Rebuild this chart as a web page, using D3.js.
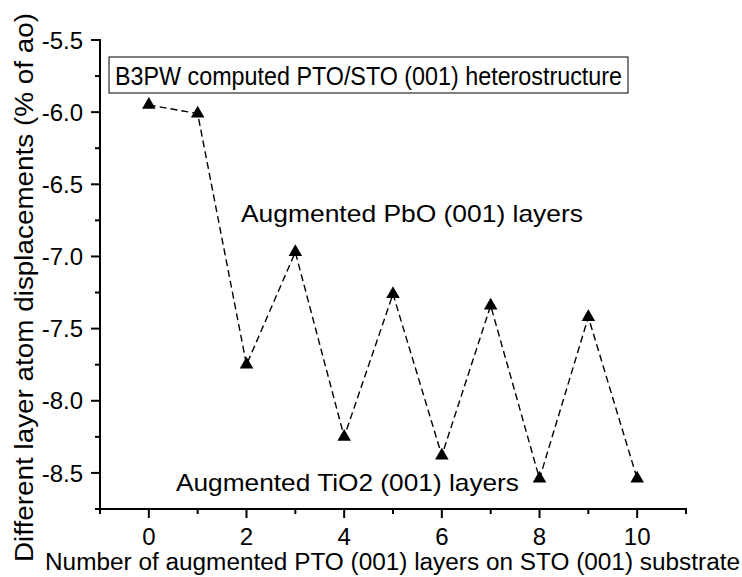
<!doctype html>
<html>
<head>
<meta charset="UTF-8">
<script src="https://cdn.jsdelivr.net/npm/d3@7"></script>
<style>
  body { margin: 0; background: #fff; }
  svg text { font-family: "Liberation Sans", Arial, sans-serif; fill: #000; }
</style>
</head>
<body>
<svg id="chart" width="742" height="577"></svg>
<script>
// layer number vs displacement (% of ao)
var layers = [0, 1, 2, 3, 4, 5, 6, 7, 8, 9, 10];
var displacement = [-5.95, -6.01, -7.75, -6.97, -8.25, -7.26, -8.38, -7.34, -8.54, -7.42, -8.54];
var xTicks = [0, 2, 4, 6, 8, 10];
var xMinor = [-1, 1, 3, 5, 7, 9, 11];
var yTicks = [-5.5, -6.0, -6.5, -7.0, -7.5, -8.0, -8.5];
var yMinor = [-5.75, -6.25, -6.75, -7.25, -7.75, -8.25, -8.75];

var svg = d3.select("#chart");
var x = d3.scaleLinear().domain([-1, 11]).range([100, 686]);
var y = d3.scaleLinear().domain([-8.75, -5.5]).range([509, 40]);

// x axis
var gx = svg.append("g").attr("transform", "translate(0," + y(-8.75) + ")");
gx.append("line").attr("x1", x(-1) - 1).attr("x2", x(11) + 1).attr("stroke", "#000").attr("stroke-width", 2);
gx.selectAll(".maj").data(xTicks).enter().append("line")
    .attr("x1", d => x(d)).attr("x2", d => x(d)).attr("y1", 0).attr("y2", 9)
    .attr("stroke", "#000").attr("stroke-width", 2);
gx.selectAll(".min").data(xMinor).enter().append("line")
    .attr("x1", d => x(d)).attr("x2", d => x(d)).attr("y1", 0).attr("y2", 5)
    .attr("stroke", "#000").attr("stroke-width", 2);
gx.selectAll("text").data(xTicks).enter().append("text")
    .attr("x", d => x(d)).attr("y", 36).attr("text-anchor", "middle")
    .style("font-size", "24px").text(d => d);

// y axis
var gy = svg.append("g").attr("transform", "translate(" + x(-1) + ",0)");
gy.append("line").attr("y1", y(-5.5) - 1).attr("y2", y(-8.75)).attr("stroke", "#000").attr("stroke-width", 2);
gy.selectAll(".maj").data(yTicks).enter().append("line")
    .attr("y1", d => y(d)).attr("y2", d => y(d)).attr("x1", 0).attr("x2", -9)
    .attr("stroke", "#000").attr("stroke-width", 2);
gy.selectAll(".min").data(yMinor).enter().append("line")
    .attr("y1", d => y(d)).attr("y2", d => y(d)).attr("x1", 0).attr("x2", -5)
    .attr("stroke", "#000").attr("stroke-width", 2);
gy.selectAll("text").data(yTicks).enter().append("text")
    .attr("x", -17).attr("y", d => y(d)).attr("dy", "0.36em").attr("text-anchor", "end")
    .style("font-size", "24px").text(d => d.toFixed(1));

// axis titles
svg.append("text").attr("x", 45).attr("y", 570)
    .attr("textLength", 695).attr("lengthAdjust", "spacingAndGlyphs")
    .style("font-size", "23px").text("Number of augmented PTO (001) layers on STO (001) substrate");
svg.append("text").attr("transform", "translate(33,562) rotate(-90)")
    .attr("textLength", 549).attr("lengthAdjust", "spacingAndGlyphs")
    .style("font-size", "26px").text("Different layer atom displacements (% of ao)");

// dashed line + markers
var line = d3.line().x((d, i) => x(layers[i])).y(d => y(d));
svg.append("path").datum(displacement).attr("d", line)
    .attr("fill", "none").attr("stroke", "#000").attr("stroke-width", 1.4).attr("stroke-dasharray", "7,4");
svg.selectAll(".pt").data(displacement).enter().append("path")
    .attr("transform", (d, i) => "translate(" + x(layers[i]) + "," + y(d) + ")")
    .attr("d", d3.symbol().type(d3.symbolTriangle).size(80));

// annotations
svg.append("rect").attr("x", 109).attr("y", 57).attr("width", 519).attr("height", 36)
    .attr("fill", "#fff").attr("stroke", "#000").attr("stroke-width", 1);
svg.append("text").attr("x", 115).attr("y", 85)
    .attr("textLength", 507).attr("lengthAdjust", "spacingAndGlyphs")
    .style("font-size", "25px").text("B3PW computed PTO/STO (001) heterostructure");
svg.append("text").attr("x", 241).attr("y", 222)
    .attr("textLength", 342).attr("lengthAdjust", "spacingAndGlyphs")
    .style("font-size", "24px").text("Augmented PbO (001) layers");
svg.append("text").attr("x", 176).attr("y", 491)
    .attr("textLength", 343).attr("lengthAdjust", "spacingAndGlyphs")
    .style("font-size", "24px").text("Augmented TiO2 (001) layers");
</script>
</body>
</html>
